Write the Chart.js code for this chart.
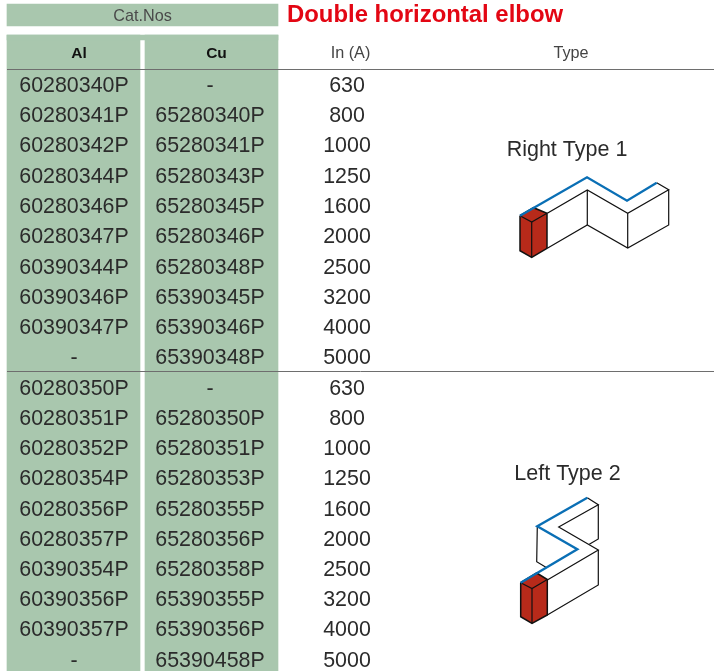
<!DOCTYPE html>
<html>
<head>
<meta charset="utf-8">
<style>
  html, body { margin: 0; padding: 0; background: #fff; }
  canvas { display: block; }
</style>
<script src="https://cdn.jsdelivr.net/npm/chart.js@4/dist/chart.umd.js"></script>
</head>
<body>
<canvas id="myChart" width="714" height="671"></canvas>
<script>
// table contents
const alNosRight = ["60280340P", "60280341P", "60280342P", "60280344P", "60280346P", "60280347P", "60390344P", "60390346P", "60390347P", "-"];
const cuNosRight = ["-", "65280340P", "65280341P", "65280343P", "65280345P", "65280346P", "65280348P", "65390345P", "65390346P", "65390348P"];
const alNosLeft = ["60280350P", "60280351P", "60280352P", "60280354P", "60280356P", "60280357P", "60390354P", "60390356P", "60390357P", "-"];
const cuNosLeft = ["-", "65280350P", "65280351P", "65280353P", "65280355P", "65280356P", "65280358P", "65390355P", "65390356P", "65390458P"];
const ratings = ["630", "800", "1000", "1250", "1600", "2000", "2500", "3200", "4000", "5000"];

// row centres
const rowsRight = [85, 115, 145.5, 176, 206, 236, 267, 297, 327, 357];
const rowsLeft = [388, 418, 448, 478, 509, 539, 569, 599, 629, 660];

const COL_AL = 74, COL_CU = 210, COL_IN = 347, COL_TYPE = 571;

// isometric busbar drawings, in the same units as the axes
const rightOutline = [
  [[547.3, 213.3], [587.3, 190], [627.7, 213.3], [668.7, 189.7], [656.7, 182.7]],
  [[547.3, 248.3], [587.3, 225], [627.7, 248], [668.7, 225], [668.7, 189.7]],
  [[587.3, 190], [587.3, 225]],
  [[627.7, 213.3], [627.7, 248]]
];
const rightEnd = [[520, 215.7], [533.5, 207.7], [547, 213.3], [547, 248.3], [531.7, 257.3], [520, 250.7], [520, 215.7]];
const rightEndEdges = [[[520, 215.7], [531.7, 222], [547, 213.3]], [[531.7, 222], [531.7, 257.3]]];
const rightTop = [[520, 215.7], [587, 177.3], [627, 200.7], [656.7, 182.7]];

const leftOutline = [
  [[587.3, 497.7], [598.3, 504.7], [558.7, 527], [598.3, 550], [547.3, 580]],
  [[598.3, 504.7], [598.3, 539], [589.3, 544.3]],
  [[537.3, 526.3], [536.7, 561.7], [546.7, 567.7]],
  [[598.3, 550], [598.3, 585], [547.3, 615]]
];
const leftEnd = [[520.7, 582.7], [536.7, 573], [547.3, 579.5], [547.3, 615], [532, 623.3], [520.7, 616.7], [520.7, 582.7]];
const leftEndEdges = [[[520.7, 582.7], [532, 588.5], [547.3, 579.5]], [[532, 588.5], [532, 623.3]]];
const leftTop = [[520.7, 582.7], [577.3, 549.3], [537.3, 526.3], [587.3, 497.7]];

const GREEN = "#a9c7ae";
const toPoints = (pts) => pts.map((p) => ({ x: p[0], y: p[1] }));

function lineSet(pts, color, width, order) {
  return {
    type: "line",
    data: toPoints(pts),
    borderColor: color,
    borderWidth: width,
    pointRadius: 0,
    tension: 0,
    fill: false,
    order: order,
  };
}

function fillSet(pts, color, order) {
  return {
    type: "line",
    data: toPoints(pts),
    borderColor: "#111",
    borderWidth: 1.5,
    backgroundColor: color,
    pointRadius: 0,
    tension: 0,
    fill: "shape",
    order: order,
  };
}

const datasets = [
  {
    type: "bar",
    data: [{ x: 142.5, y: [4, 26] }, { x: 142.5, y: [35, 40] }],
    backgroundColor: GREEN,
    barThickness: 271,
    grouped: false,
    order: 5,
  },
  {
    type: "bar",
    data: [{ x: 73.5, y: [35, 671] }, { x: 211.5, y: [35, 671] }],
    backgroundColor: GREEN,
    barThickness: 133,
    grouped: false,
    order: 5,
  },
  lineSet([[7, 69.5], [714, 69.5]], "#6e6e6e", 1, 4),
  lineSet([[7, 371.5], [714, 371.5]], "#6e6e6e", 1, 4),
  fillSet(rightEnd, "#b72a1a", 3),
  fillSet(leftEnd, "#b72a1a", 3),
];
[...rightOutline, ...rightEndEdges, ...leftOutline, ...leftEndEdges].forEach((pts) => {
  datasets.push(lineSet(pts, "#111", 1.2, 2));
});
datasets.push(lineSet(rightTop, "#0a6fb5", 2.4, 1));
datasets.push(lineSet(leftTop, "#0a6fb5", 2.4, 1));

// table text goes through the axes too
const tableText = {
  id: "tableText",
  afterDraw(chart) {
    const { ctx, scales } = chart;
    const put = (str, x, y, font, color, align) => {
      ctx.font = font;
      ctx.fillStyle = color;
      ctx.textAlign = align || "center";
      ctx.textBaseline = "middle";
      ctx.fillText(str, scales.x.getPixelForValue(x), scales.y.getPixelForValue(y));
    };
    const cell = '21.4px "Liberation Sans"';
    const head = '16.2px "Liberation Sans"';
    const bold = 'bold 15.5px "Liberation Sans"';

    ctx.save();
    put("Cat.Nos", 142.5, 17, head, "#4a4a4a");
    put("Double horizontal elbow", 287, 15, 'bold 23.9px "Liberation Sans"', "#e30613", "left");
    put("Al", 79, 53.5, bold, "#111");
    put("Cu", 216.5, 53.5, bold, "#111");
    put("In (A)", 350.5, 54, head, "#444");
    put("Type", COL_TYPE, 54, head, "#444");

    [[rowsRight, alNosRight, cuNosRight], [rowsLeft, alNosLeft, cuNosLeft]].forEach(([rows, al, cu]) => {
      rows.forEach((y, i) => {
        put(al[i], COL_AL, y + 1, cell, "#2b2b2b");
        put(cu[i], COL_CU, y + 1, cell, "#2b2b2b");
        put(ratings[i], COL_IN, y + 1, cell, "#2b2b2b");
      });
    });

    put("Right Type 1", 567, 150, '21.5px "Liberation Sans"', "#2b2b2b");
    put("Left Type 2", 567.5, 474, '21.5px "Liberation Sans"', "#2b2b2b");
    ctx.restore();
  },
};

new Chart(document.getElementById("myChart"), {
  data: { datasets: datasets },
  options: {
    responsive: false,
    animation: false,
    layout: { padding: 0 },
    plugins: { legend: { display: false }, tooltip: { enabled: false } },
    scales: {
      x: { type: "linear", min: 0, max: 714, offset: false, display: false },
      y: { type: "linear", min: 0, max: 671, reverse: true, display: false },
    },
  },
  plugins: [tableText],
});
</script>
</body>
</html>
